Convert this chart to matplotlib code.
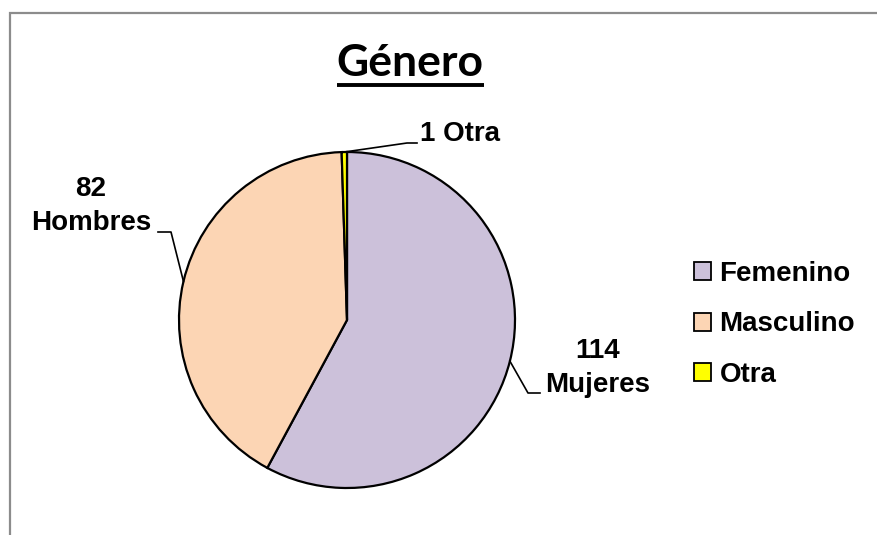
import matplotlib
matplotlib.use('Agg')
import numpy as np
import matplotlib.pyplot as plt
from matplotlib.patches import Patch, Rectangle

# data
categories = ['Femenino', 'Masculino', 'Otra']
counts = [114, 82, 1]
slice_labels = ['Mujeres', 'Hombres', 'Otra']
colors = ['#CCC1DA', '#FCD5B4', '#FFFF00']

W, H = 877, 535

fig = plt.figure(figsize=(W / 100, H / 100), dpi=100)
ax = fig.add_axes([0, 0, 1, 1])

# outer frame
ax.add_patch(Rectangle((10, H - 600), 900, 587, fill=False, edgecolor='#8c8c8c', lw=1.6))

cx, cy = 347, H - 320
r = 168
wedges, _ = ax.pie(counts, colors=colors, startangle=90, counterclock=False,
                   center=(cx, cy), radius=r, frame=True,
                   wedgeprops=dict(edgecolor='black', linewidth=1.6))
ax.set_xlim(0, W)
ax.set_ylim(0, H)
ax.set_aspect('equal')
ax.axis('off')

lab_font = dict(family='Liberation Sans', weight='bold', fontsize=20)


def edge_point(w):
    a = np.deg2rad((w.theta1 + w.theta2) / 2)
    return cx + r * np.cos(a), cy + r * np.sin(a)


# Femenino label
ex, ey = edge_point(wedges[0])
ax.plot([ex, 528, 540], [ey, H - 393, H - 393], color='black', lw=1.2)
ax.text(598, H - 368, f'{counts[0]}\n{slice_labels[0]}', ha='center', va='center',
        linespacing=1.45, **lab_font)

# Masculino label
ex, ey = edge_point(wedges[1])
ax.plot([ex, 171, 158], [ey, H - 232, H - 232], color='black', lw=1.2)
ax.text(91, H - 206, f'{counts[1]}\n{slice_labels[1]}', ha='center', va='center',
        linespacing=1.45, **lab_font)

# Otra label
ex, ey = edge_point(wedges[2])
ax.plot([ex, 407, 417], [ey, H - 143, H - 143], color='black', lw=1.2)
ax.text(420, H - 134, f'{counts[2]} {slice_labels[2]}', ha='left', va='center', **lab_font)

# title with underline
t = ax.text(410, H - 63, 'Género', ha='center', va='center',
            family='Lato', weight='bold', fontsize=32)
fig.canvas.draw()
bb = t.get_window_extent().transformed(ax.transData.inverted())
ax.plot([bb.x0, bb.x1], [H - 85, H - 85], color='black', lw=2.8, solid_capstyle='butt')

handles = [Patch(facecolor=c, edgecolor='black', lw=1.3) for c in colors]
leg = ax.legend(handles, categories, loc='upper left',
                bbox_to_anchor=(694 / W, 1 - 261 / H), frameon=False,
                prop=dict(family='Liberation Sans', weight='bold', size=20),
                handlelength=0.62, handleheight=0.62, handletextpad=0.3,
                labelspacing=0.88, borderpad=0, borderaxespad=0)

fig.savefig('out.png', dpi=100)
